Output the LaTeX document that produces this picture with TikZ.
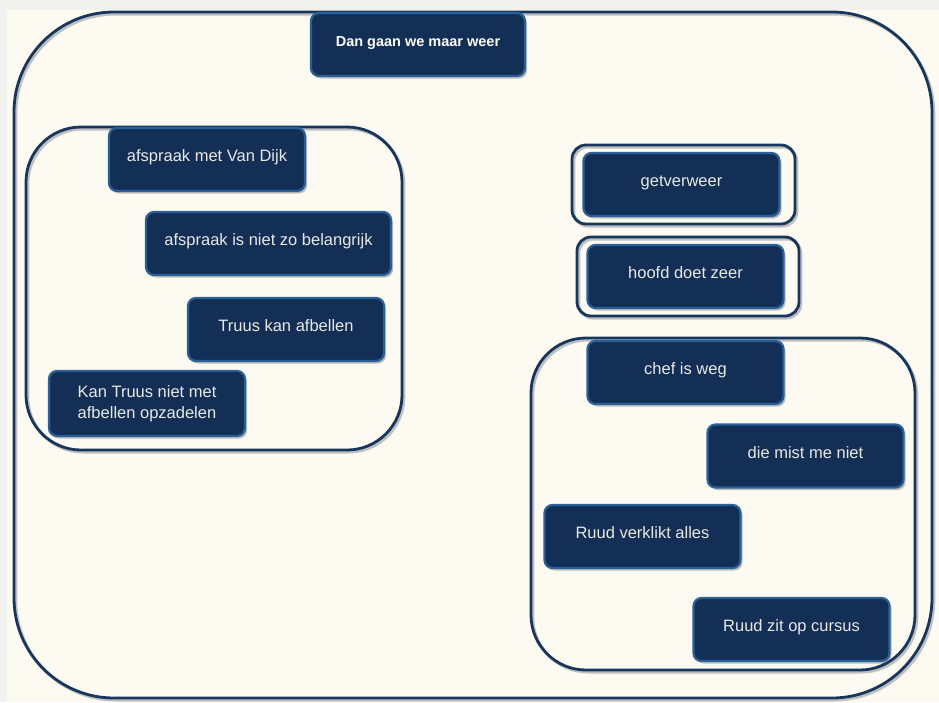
\documentclass[tikz,border=0pt]{standalone}
\usepackage{fontspec}
\setmainfont{Liberation Sans}
\usetikzlibrary{shadows}
\definecolor{mrand}{HTML}{F1F1F0}
\definecolor{mcreme}{HTML}{FDFBF1}
\definecolor{mkader}{HTML}{17365D}
\definecolor{mvul}{HTML}{142F56}
\definecolor{mlijn}{HTML}{2A6099}
\definecolor{mtekst}{HTML}{E8E8E2}
\tikzset{
  kader/.style={draw=mkader, line width=2.8pt,
                preaction={draw=black!25, line width=3pt,
                           transform canvas={shift={(1.8pt,-2pt)}}}},
  blokbasis/.style={draw=mlijn, line width=2.2pt, fill=mvul, text=mtekst,
                    rounded corners=8pt, minimum width=196pt, minimum height=63pt,
                    inner sep=4pt, font=\fontsize{16.5}{21}\selectfont,
                    drop shadow={shadow xshift=2pt, shadow yshift=-2.5pt,
                                 opacity=.35, fill=black!70}},
  blok/.style={blokbasis, text height=11pt, text depth=7pt},
}
\begin{document}
\begin{tikzpicture}[x=1pt, y=-1pt]
  %% achtergrond
  \fill[mrand] (0,0) rectangle (939,702);
  \fill[mcreme] (7,10) rectangle (939,702);
  \useasboundingbox (0,0) rectangle (939,702);

  %% kaders
  \draw[kader, rounded corners=100pt] (14,12) rectangle (932,698);
  \draw[kader, rounded corners=55pt] (26,127) rectangle (402,450);
  \draw[kader, rounded corners=55pt] (531,338) rectangle (915,670);
  \draw[kader, rounded corners=14pt] (572,145) rectangle (795,224);
  \draw[kader, rounded corners=14pt] (577,237) rectangle (799,316);

  %% titel
  \node[blok, minimum width=214pt, text=white,
        font=\bfseries\fontsize{14.5}{17}\selectfont]
    (titel) at (418,44.5) {Dan gaan we maar weer};

  %% links
  \node[blok] (vandijk) at (207,159.5) {afspraak met Van Dijk};
  \node[blok, minimum width=245pt] (belang) at (268.5,243.5) {afspraak is niet zo belangrijk};
  \node[blok] (afbellen) at (286,329.5) {Truus kan afbellen};
  \node[blokbasis, minimum height=65pt, align=center]
    (opzadelen) at (147,403.5) {Kan Truus niet met\\afbellen opzadelen};

  %% rechts
  \node[blok] (getver) at (681.5,184.5) {getverweer};
  \node[blok] (hoofd) at (685.5,276.5) {hoofd doet zeer};
  \node[blok] (chef) at (685.5,372.5) {chef is weg};
  \node[blok] (mist) at (805.5,456) {die mist me niet};
  \node[blok] (verklikt) at (642.5,536.5) {Ruud verklikt alles};
  \node[blok] (cursus) at (791.5,629.5) {Ruud zit op cursus};
\end{tikzpicture}
\end{document}
